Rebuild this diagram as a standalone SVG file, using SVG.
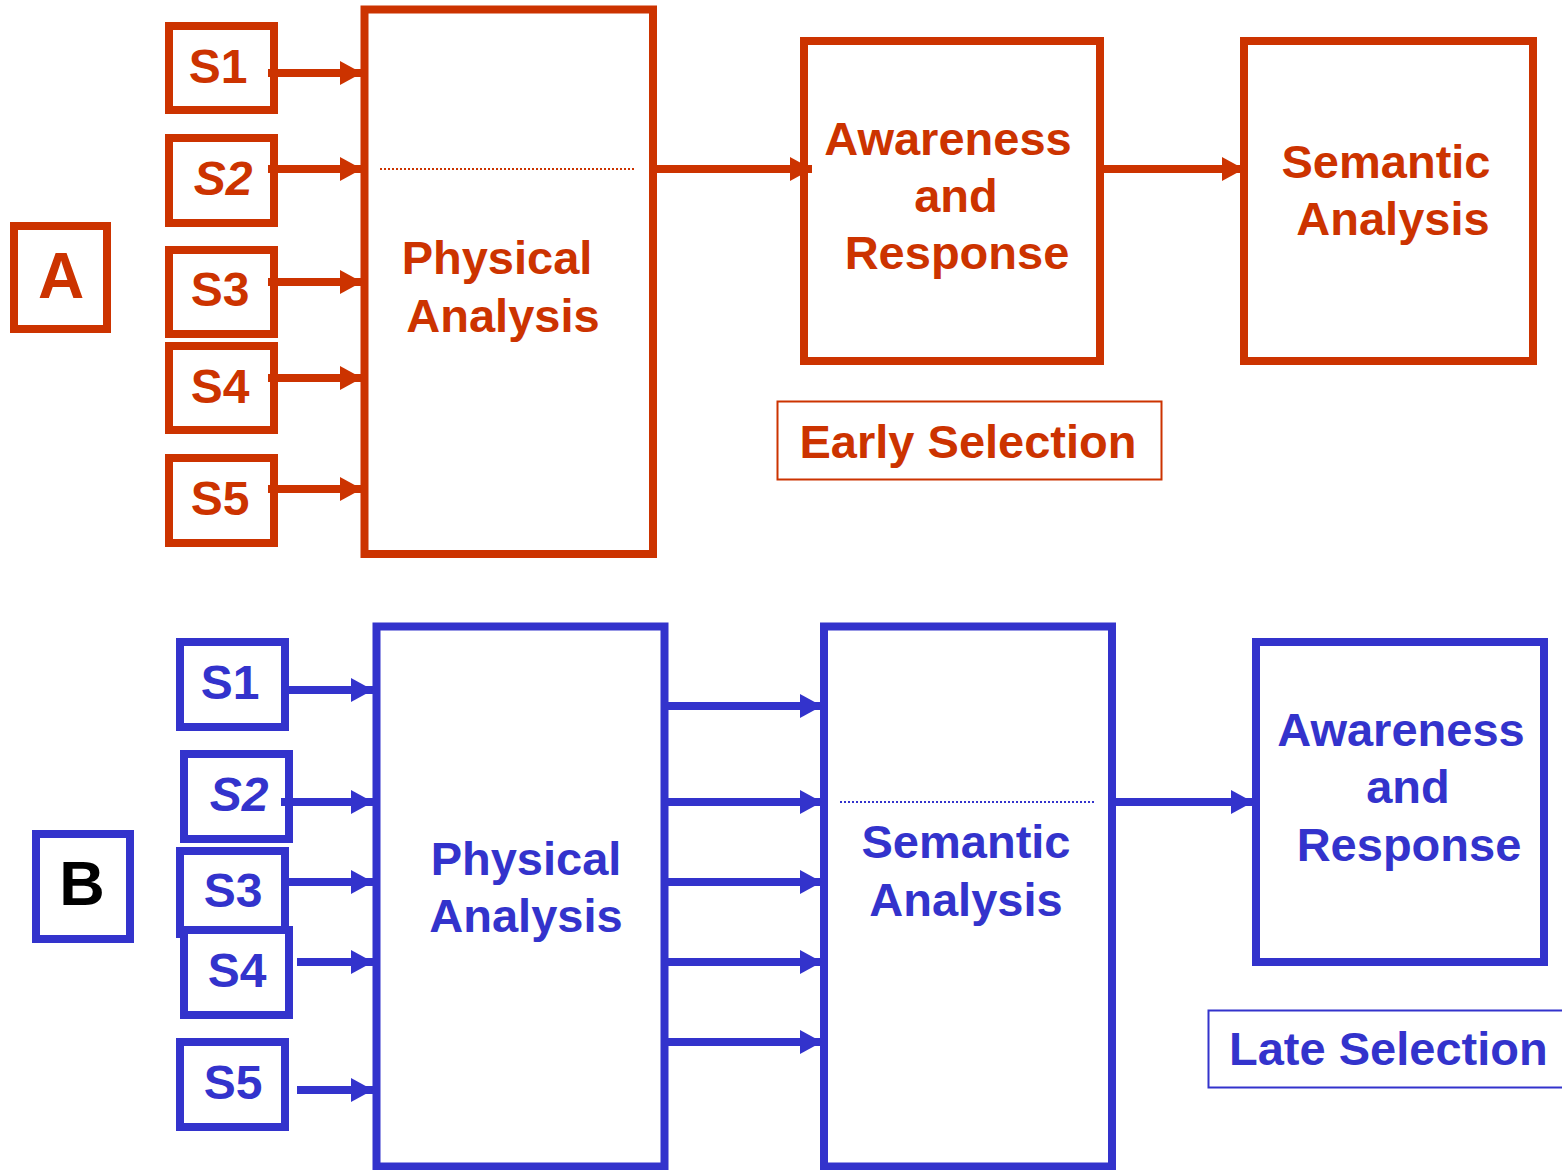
<svg xmlns="http://www.w3.org/2000/svg" width="1562" height="1170" viewBox="0 0 1562 1170">
<style>
text{font-family:"Liberation Sans",Arial,sans-serif;font-weight:bold;text-anchor:middle}
.r{fill:#CC3300}.b{fill:#3333CC}
.rb{fill:#fff;stroke:#CC3300;stroke-width:8}
.bb{fill:#fff;stroke:#3333CC;stroke-width:8}
.rl{stroke:#CC3300;stroke-width:8;fill:none}
.bl{stroke:#3333CC;stroke-width:8;fill:none}
.big{font-size:47px}.s{font-size:48px}
</style>
<defs>
<marker id="ar" markerUnits="userSpaceOnUse" markerWidth="24" markerHeight="26" refX="22" refY="12" orient="auto"><path d="M0,0 L22,12 L0,24 z" fill="#CC3300"/></marker>
<marker id="ab" markerUnits="userSpaceOnUse" markerWidth="24" markerHeight="26" refX="22" refY="12" orient="auto"><path d="M0,0 L22,12 L0,24 z" fill="#3333CC"/></marker>
</defs>
<rect width="1562" height="1170" fill="#fff"/>

<!-- Section A -->
<g id="labelA"><rect class="rb" x="14" y="226" width="93" height="103"/><text class="r" x="61" y="298" font-size="64">A</text></g>
<g id="A-S1"><rect class="rb" x="169" y="26" width="105" height="84"/><text class="r s" x="218" y="83">S1</text></g>
<g id="A-S2"><rect class="rb" x="169" y="138" width="105" height="85"/><text class="r s" x="223" y="195" font-style="italic">S2</text></g>
<g id="A-S3"><rect class="rb" x="169" y="250" width="105" height="84"/><text class="r s" x="220" y="306">S3</text></g>
<g id="A-S4"><rect class="rb" x="169" y="346" width="105" height="84"/><text class="r s" x="220" y="403">S4</text></g>
<g id="A-S5"><rect class="rb" x="169" y="458" width="105" height="85"/><text class="r s" x="220" y="515">S5</text></g>
<g id="A-physical"><rect class="rb" x="364.5" y="9.5" width="288.5" height="544.5" stroke-width="7.5"/>
<line x1="380" y1="169" x2="636" y2="169" stroke="#CC3300" stroke-width="2" stroke-dasharray="2,2"/>
<text class="r big" x="497" y="274">Physical</text><text class="r big" x="503" y="332">Analysis</text></g>
<g id="A-awareness"><rect class="rb" x="804" y="41" width="296" height="320"/>
<text class="r big" x="948" y="155">Awareness</text><text class="r big" x="956" y="212">and</text><text class="r big" x="957" y="269">Response</text></g>
<g id="A-semantic"><rect class="rb" x="1244" y="41" width="289" height="320"/>
<text class="r big" x="1386" y="178">Semantic</text><text class="r big" x="1393" y="235">Analysis</text></g>
<g id="A-early"><rect x="777.5" y="401.5" width="384" height="78" fill="none" stroke="#CC3300" stroke-width="2"/>
<text class="r big" x="968" y="458">Early Selection</text></g>

<g id="connectors-A">
<line class="rl" x1="268" y1="73" x2="362" y2="73" marker-end="url(#ar)"/>
<line class="rl" x1="268" y1="169" x2="362" y2="169" marker-end="url(#ar)"/>
<line class="rl" x1="268" y1="282" x2="362" y2="282" marker-end="url(#ar)"/>
<line class="rl" x1="268" y1="378" x2="362" y2="378" marker-end="url(#ar)"/>
<line class="rl" x1="268" y1="489" x2="362" y2="489" marker-end="url(#ar)"/>
<line class="rl" x1="657" y1="169" x2="812" y2="169" marker-end="url(#ar)"/>
<line class="rl" x1="1104" y1="169" x2="1244" y2="169" marker-end="url(#ar)"/>
</g>

<!-- Section B -->
<g id="labelB"><rect class="bb" x="36" y="834" width="94" height="105" stroke-width="7"/><text x="82" y="905" font-size="63" fill="#000">B</text></g>
<g id="B-S1"><rect class="bb" x="180" y="642" width="105" height="85"/><text class="b s" x="230" y="699">S1</text></g>
<g id="B-S2"><rect class="bb" x="184" y="754" width="105" height="85"/><text class="b s" x="239" y="811" font-style="italic">S2</text></g>
<g id="B-S3"><rect class="bb" x="180" y="851" width="105" height="83"/><text class="b s" x="233" y="907">S3</text></g>
<g id="B-S4"><rect class="bb" x="184" y="930" width="105" height="85"/><text class="b s" x="237" y="987">S4</text></g>
<g id="B-S5"><rect class="bb" x="180" y="1042" width="105" height="85"/><text class="b s" x="233" y="1099">S5</text></g>
<g id="B-physical"><rect class="bb" x="376.5" y="626.5" width="288" height="540" stroke-width="7.5"/>
<text class="b big" x="526" y="875">Physical</text><text class="b big" x="526" y="932">Analysis</text></g>
<g id="B-semantic"><rect class="bb" x="824" y="626.5" width="288" height="540"/>
<line x1="840" y1="802" x2="1096" y2="802" stroke="#3333CC" stroke-width="2" stroke-dasharray="2,2"/>
<text class="b big" x="966" y="858">Semantic</text><text class="b big" x="966" y="916">Analysis</text></g>
<g id="B-awareness"><rect class="bb" x="1256" y="642" width="288" height="320"/>
<text class="b big" x="1401" y="746">Awareness</text><text class="b big" x="1408" y="803">and</text><text class="b big" x="1409" y="861">Response</text></g>
<g id="B-late"><rect x="1208.5" y="1010.5" width="370" height="77" fill="none" stroke="#3333CC" stroke-width="2"/>
<text class="b big" x="1229" y="1065" style="text-anchor:start">Late Selection</text></g>

<g id="connectors-B">
<line class="bl" x1="281" y1="690" x2="373" y2="690" marker-end="url(#ab)"/>
<line class="bl" x1="281" y1="802" x2="373" y2="802" marker-end="url(#ab)"/>
<line class="bl" x1="281" y1="882" x2="373" y2="882" marker-end="url(#ab)"/>
<line class="bl" x1="297" y1="962" x2="373" y2="962" marker-end="url(#ab)"/>
<line class="bl" x1="297" y1="1090" x2="373" y2="1090" marker-end="url(#ab)"/>
<line class="bl" x1="668" y1="706" x2="822" y2="706" marker-end="url(#ab)"/>
<line class="bl" x1="668" y1="802" x2="822" y2="802" marker-end="url(#ab)"/>
<line class="bl" x1="668" y1="882" x2="822" y2="882" marker-end="url(#ab)"/>
<line class="bl" x1="668" y1="962" x2="822" y2="962" marker-end="url(#ab)"/>
<line class="bl" x1="668" y1="1042" x2="822" y2="1042" marker-end="url(#ab)"/>
<line class="bl" x1="1116" y1="802" x2="1253" y2="802" marker-end="url(#ab)"/>
</g>
</svg>
